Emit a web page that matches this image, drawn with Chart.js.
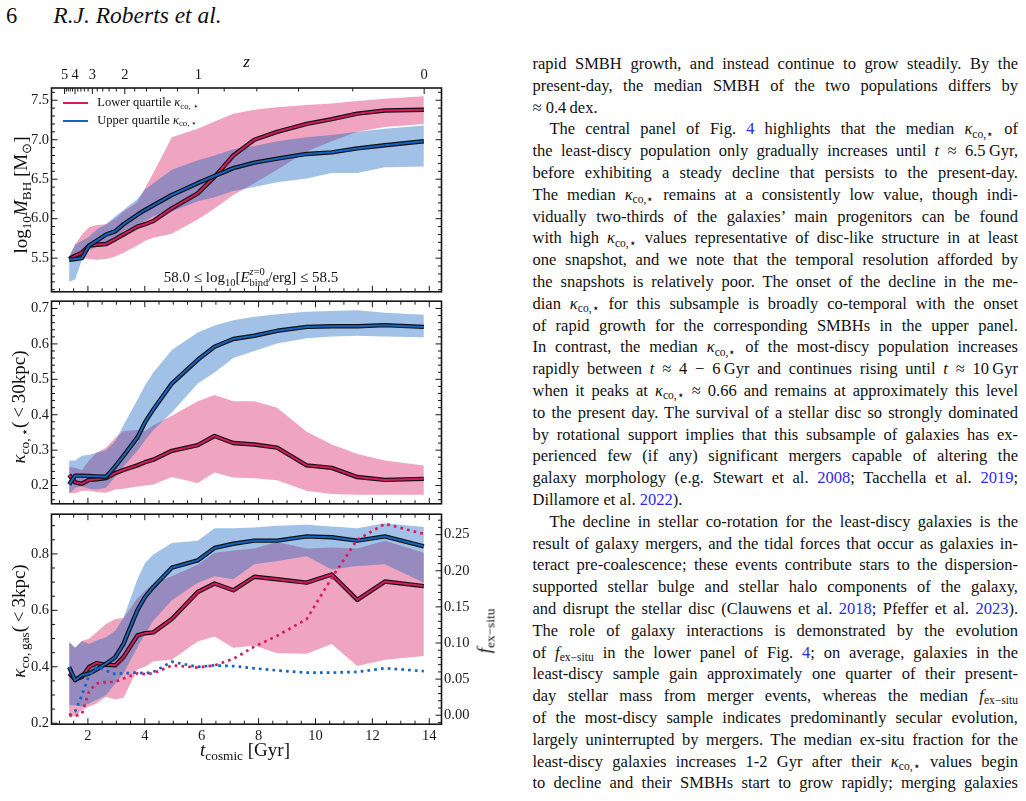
<!DOCTYPE html>
<html lang="en">
<head>
<meta charset="UTF-8">
<title>Fig. 4 - R.J. Roberts et al.</title>
<script src="https://cdn.jsdelivr.net/npm/chart.js"></script>
<style>
  body { margin: 0; width: 1026px; height: 801px; position: relative; overflow: hidden; background: #fff;
         font-family: 'Liberation Serif', 'Times New Roman', serif; color: #111; }
  canvas.panel { position: absolute; left: 0; }
  .abs { position: absolute; white-space: nowrap; line-height: 1; z-index: 2; }
  .rot { transform: translate(-50%, -50%) rotate(-90deg); }
  .ctr { transform: translateX(-50%); }
  sub { font-size: 0.7em; line-height: 0; vertical-align: baseline; position: relative; top: 0.28em; }
  .ss { display: inline-block; vertical-align: -0.3em; font-size: 0.7em; line-height: 1.0; text-align: left; }
  .ss span { display: block; }
  #col { position: absolute; left: 532.5px; top: 53px; width: 485.5px; font-size: 16.5px; line-height: 21.8px;
         font-family: 'Liberation Serif', 'Times New Roman', serif; }
  #col .ln { height: 21.8px; white-space: nowrap; }
  #col .j { text-align: justify; text-align-last: justify; }
  #col .ind { padding-left: 17px; }
  .ref { color: #2a2ae6; }
</style>
</head>
<body>

<div class="abs" style="left:6px; top:4.5px; font-size:22.5px;">6</div>
<div class="abs" style="left:53.3px; top:4.3px; font-size:23.5px; font-style:italic;">R.J. Roberts et al.</div>

<canvas id="p1" class="panel" width="480" height="265" style="top:38px"></canvas>
<canvas id="p2" class="panel" width="480" height="225" style="top:290px"></canvas>
<canvas id="p3" class="panel" width="480" height="298" style="top:503px"></canvas>

<!-- axis titles and annotations -->
<div class="abs ctr" style="left:246.5px; top:52.8px; font-size:17px; font-style:italic;">z</div>
<div class="abs rot" style="left:20px; top:195px; font-size:19px;">log<sub>10</sub><i>M</i><sub>BH</sub> [M<sub>⊙</sub>]</div>
<div class="abs rot" style="left:18px; top:407px; font-size:19px;"><i>κ</i><sub>co,&thinsp;⋆</sub>(&thinsp;&lt;&thinsp;30kpc)</div>
<div class="abs rot" style="left:18px; top:621px; font-size:19px;"><i>κ</i><sub>co,&thinsp;gas</sub>(&thinsp;&lt;&thinsp;3kpc)</div>
<div class="abs rot" style="left:484px; top:631px; font-size:19px;"><i>f</i><sub>ex−situ</sub></div>
<div class="abs ctr" style="left:245px; top:739.9px; font-size:19px;"><i>t</i><sub>cosmic</sub> [Gyr]</div>
<div class="abs ctr" style="left:251px; top:267.4px; font-size:15px;">58.0 ≤ log<sub>10</sub>[<i>E</i><span class="ss"><span><i>z</i>=0</span><span>bind</span></span>/erg] ≤ 58.5</div>

<!-- legend -->
<div class="abs" style="left:62.7px; top:101.6px; width:25.6px; height:2.2px; background:#d81b60;"></div>
<div class="abs" style="left:62.7px; top:120.1px; width:25.6px; height:2.2px; background:#1565c0;"></div>
<div class="abs" style="left:97.3px; top:96.2px; font-size:12.5px;">Lower quartile <i>κ</i><sub>co,&thinsp;⋆</sub></div>
<div class="abs" style="left:97.3px; top:113.8px; font-size:12.5px;">Upper quartile <i>κ</i><sub>co,&thinsp;⋆</sub></div>

<!-- right column text -->
<div id="col">
  <div class="ln j">rapid SMBH growth, and instead continue to grow steadily. By the</div>
  <div class="ln j">present-day, the median SMBH of the two populations differs by</div>
  <div class="ln">≈ 0.4&thinsp;dex.</div>
  <div class="ln j ind">The central panel of Fig. <span class="ref">4</span> highlights that the median <i>κ</i><sub>co,⋆</sub> of</div>
  <div class="ln j">the least-discy population only gradually increases until <i>t</i> ≈ 6.5&thinsp;Gyr,</div>
  <div class="ln j">before exhibiting a steady decline that persists to the present-day.</div>
  <div class="ln j">The median <i>κ</i><sub>co,⋆</sub> remains at a consistently low value, though indi-</div>
  <div class="ln j">vidually two-thirds of the galaxies’ main progenitors can be found</div>
  <div class="ln j">with high <i>κ</i><sub>co,⋆</sub> values representative of disc-like structure in at least</div>
  <div class="ln j">one snapshot, and we note that the temporal resolution afforded by</div>
  <div class="ln j">the snapshots is relatively poor. The onset of the decline in the me-</div>
  <div class="ln j">dian <i>κ</i><sub>co,⋆</sub> for this subsample is broadly co-temporal with the onset</div>
  <div class="ln j">of rapid growth for the corresponding SMBHs in the upper panel.</div>
  <div class="ln j">In contrast, the median <i>κ</i><sub>co,⋆</sub> of the most-discy population increases</div>
  <div class="ln j">rapidly between <i>t</i> ≈ 4 − 6&thinsp;Gyr and continues rising until <i>t</i> ≈ 10&thinsp;Gyr</div>
  <div class="ln j">when it peaks at <i>κ</i><sub>co,⋆</sub> ≈ 0.66 and remains at approximately this level</div>
  <div class="ln j">to the present day. The survival of a stellar disc so strongly dominated</div>
  <div class="ln j">by rotational support implies that this subsample of galaxies has ex-</div>
  <div class="ln j">perienced few (if any) significant mergers capable of altering the</div>
  <div class="ln j">galaxy morphology (e.g. Stewart et al. <span class="ref">2008</span>; Tacchella et al. <span class="ref">2019</span>;</div>
  <div class="ln">Dillamore et al. <span class="ref">2022</span>).</div>
  <div class="ln j ind">The decline in stellar co-rotation for the least-discy galaxies is the</div>
  <div class="ln j">result of galaxy mergers, and the tidal forces that occur as galaxies in-</div>
  <div class="ln j">teract pre-coalescence; these events contribute stars to the dispersion-</div>
  <div class="ln j">supported stellar bulge and stellar halo components of the galaxy,</div>
  <div class="ln j">and disrupt the stellar disc (Clauwens et al. <span class="ref">2018</span>; Pfeffer et al. <span class="ref">2023</span>).</div>
  <div class="ln j">The role of galaxy interactions is demonstrated by the evolution</div>
  <div class="ln j">of <i>f</i><sub>ex−situ</sub> in the lower panel of Fig. <span class="ref">4</span>; on average, galaxies in the</div>
  <div class="ln j">least-discy sample gain approximately one quarter of their present-</div>
  <div class="ln j">day stellar mass from merger events, whereas the median <i>f</i><sub>ex−situ</sub></div>
  <div class="ln j">of the most-discy sample indicates predominantly secular evolution,</div>
  <div class="ln j">largely uninterrupted by mergers. The median ex-situ fraction for the</div>
  <div class="ln j">least-discy galaxies increases 1-2 Gyr after their <i>κ</i><sub>co,⋆</sub> values begin</div>
  <div class="ln j">to decline and their SMBHs start to grow rapidly; merging galaxies</div>
</div>

<script>
// cosmic time of each snapshot [Gyr]
const T = [1.34, 1.55, 1.79, 2.04, 2.30, 2.64, 2.96, 3.25, 3.74, 4.01, 4.30, 4.95, 5.86, 6.45, 7.11, 7.85, 8.65, 9.69, 10.57, 11.47, 12.44, 13.81];

// top panel: log10 M_BH
const bhLowMed = [5.49, 5.53, 5.57, 5.66, 5.67, 5.68, 5.74, 5.80, 5.90, 5.93, 5.97, 6.13, 6.32, 6.53, 6.80, 7.00, 7.10, 7.20, 7.26, 7.33, 7.37, 7.38];
const bhLowP75 = [5.52, 5.67, 5.80, 5.89, 5.92, 5.93, 6.00, 6.09, 6.21, 6.39, 6.58, 7.03, 7.14, 7.23, 7.33, 7.38, 7.41, 7.44, 7.46, 7.49, 7.52, 7.55];
const bhLowP25 = [5.48, 5.50, 5.50, 5.49, 5.48, 5.49, 5.52, 5.57, 5.66, 5.72, 5.76, 5.81, 5.99, 6.13, 6.30, 6.45, 6.62, 6.85, 6.98, 7.10, 7.16, 7.20];
const bhUppMed = [5.48, 5.49, 5.50, 5.66, 5.72, 5.80, 5.84, 5.93, 6.05, 6.11, 6.17, 6.30, 6.45, 6.54, 6.64, 6.71, 6.76, 6.82, 6.84, 6.89, 6.93, 6.98];
const bhUppP75 = [5.52, 5.67, 5.72, 5.77, 5.86, 5.93, 6.03, 6.11, 6.25, 6.37, 6.45, 6.62, 6.74, 6.80, 6.88, 6.92, 6.98, 7.03, 7.06, 7.10, 7.14, 7.18];
const bhUppP25 = [5.20, 5.23, 5.48, 5.60, 5.64, 5.66, 5.72, 5.84, 5.93, 5.97, 6.03, 6.09, 6.22, 6.27, 6.35, 6.40, 6.46, 6.51, 6.58, 6.58, 6.65, 6.66];

// middle panel: kappa_co,star (<30kpc)
const ksLowMed = [0.230, 0.209, 0.205, 0.216, 0.218, 0.221, 0.235, 0.244, 0.257, 0.266, 0.273, 0.298, 0.314, 0.340, 0.320, 0.316, 0.307, 0.257, 0.250, 0.224, 0.216, 0.219];
const ksLowP75 = [0.253, 0.250, 0.244, 0.271, 0.293, 0.307, 0.334, 0.354, 0.357, 0.354, 0.370, 0.397, 0.438, 0.456, 0.438, 0.438, 0.420, 0.352, 0.316, 0.289, 0.271, 0.257];
const ksLowP25 = [0.180, 0.178, 0.185, 0.185, 0.182, 0.180, 0.189, 0.191, 0.197, 0.200, 0.203, 0.224, 0.207, 0.237, 0.223, 0.221, 0.215, 0.185, 0.176, 0.174, 0.174, 0.174];
const ksUppMed = [0.203, 0.228, 0.228, 0.227, 0.226, 0.225, 0.254, 0.284, 0.336, 0.379, 0.415, 0.488, 0.555, 0.592, 0.614, 0.623, 0.637, 0.648, 0.650, 0.650, 0.653, 0.648];
const ksUppP75 = [0.271, 0.271, 0.284, 0.287, 0.293, 0.300, 0.325, 0.370, 0.442, 0.483, 0.519, 0.583, 0.632, 0.652, 0.667, 0.677, 0.684, 0.691, 0.693, 0.695, 0.688, 0.682];
const ksUppP25 = [0.176, 0.194, 0.198, 0.191, 0.189, 0.194, 0.225, 0.254, 0.298, 0.329, 0.357, 0.406, 0.488, 0.519, 0.560, 0.580, 0.601, 0.616, 0.621, 0.623, 0.621, 0.619];

// bottom panel: kappa_co,gas (<3kpc) and f_ex-situ
const kgLowMed = [0.376, 0.355, 0.364, 0.399, 0.413, 0.407, 0.405, 0.434, 0.511, 0.519, 0.522, 0.569, 0.665, 0.695, 0.671, 0.719, 0.710, 0.698, 0.727, 0.637, 0.702, 0.686];
const kgLowP75 = [0.487, 0.467, 0.491, 0.499, 0.522, 0.552, 0.569, 0.573, 0.643, 0.669, 0.695, 0.721, 0.762, 0.804, 0.812, 0.819, 0.842, 0.819, 0.823, 0.819, 0.847, 0.804];
const kgLowP25 = [0.229, 0.223, 0.247, 0.259, 0.270, 0.294, 0.284, 0.290, 0.390, 0.400, 0.420, 0.425, 0.490, 0.507, 0.467, 0.475, 0.448, 0.446, 0.481, 0.403, 0.425, 0.438];
const kgUppMed = [0.399, 0.352, 0.370, 0.376, 0.390, 0.411, 0.434, 0.481, 0.601, 0.648, 0.683, 0.751, 0.777, 0.821, 0.836, 0.847, 0.847, 0.862, 0.859, 0.847, 0.862, 0.827];
const kgUppP75 = [0.487, 0.467, 0.491, 0.481, 0.493, 0.505, 0.528, 0.573, 0.710, 0.768, 0.798, 0.839, 0.847, 0.891, 0.891, 0.894, 0.900, 0.903, 0.897, 0.891, 0.909, 0.895];
const kgUppP25 = [0.264, 0.264, 0.259, 0.270, 0.282, 0.300, 0.341, 0.376, 0.469, 0.516, 0.563, 0.636, 0.698, 0.721, 0.710, 0.763, 0.775, 0.792, 0.745, 0.757, 0.763, 0.698];
const exLow = [0.000, -0.001, 0.002, 0.033, 0.044, 0.046, 0.046, 0.051, 0.058, 0.057, 0.058, 0.069, 0.066, 0.069, 0.078, 0.095, 0.110, 0.133, 0.190, 0.243, 0.265, 0.251];
const exUpp = [0.000, 0.005, 0.028, 0.055, 0.067, 0.062, 0.057, 0.058, 0.059, 0.058, 0.060, 0.074, 0.067, 0.069, 0.068, 0.065, 0.062, 0.059, 0.059, 0.060, 0.065, 0.061];

// tick labels
const xTicks = [2, 4, 6, 8, 10, 12, 14];
const zTicks = [0, 1, 2, 3, 4, 5];
const bhTicks = [5.5, 6.0, 6.5, 7.0, 7.5];
const ksTicks = [0.2, 0.3, 0.4, 0.5, 0.6, 0.7];
const kgTicks = [0.2, 0.4, 0.6, 0.8];
const exTicks = [0.00, 0.05, 0.10, 0.15, 0.20, 0.25];

const X_MIN = 0.72, X_MAX = 14.43;
const RED = '#d81b60', BLUE = '#1565c0';
const RED_FILL = 'rgba(216,27,96,0.4)', BLUE_FILL = 'rgba(21,101,192,0.4)';
const INK = '#1a1a1a';
const FONT = { family: "'Liberation Serif', 'Times New Roman', serif", size: 14.5 };

// age of the universe at redshift z (flat LCDM, Planck-like), only used to place the top axis
const tOfZ = z => 11.554 * Math.asinh(1.5025 * Math.pow(1 + z, -1.5));

const pts = ys => T.map((t, i) => ({ x: t, y: ys[i] }));

function band(lo, hi, color, order) {
  return [
    { data: pts(lo), borderWidth: 0, borderColor: 'rgba(0,0,0,0)', pointRadius: 0, fill: false, order: order },
    { data: pts(hi), borderWidth: 0, borderColor: 'rgba(0,0,0,0)', pointRadius: 0, fill: '-1', backgroundColor: color, order: order - 1 }
  ];
}

function median(vals, color, order) {
  return [
    { data: pts(vals), borderColor: '#111', borderWidth: 4.4, pointRadius: 0, fill: false, order: order, borderJoinStyle: 'round' },
    { data: pts(vals), borderColor: color, borderWidth: 2.0, pointRadius: 0, fill: false, order: order - 1, borderJoinStyle: 'round' }
  ];
}

function dotted(vals, color, order) {
  return { data: pts(vals), yAxisID: 'y2', borderColor: color, borderWidth: 2.7, borderDash: [2.7, 4.1],
           pointRadius: 0, fill: false, order: order };
}

// inward ticks on every side plus the frame, matplotlib style
const frameTicks = {
  id: 'frameTicks',
  afterDatasetsDraw(chart, args, o) {
    const { ctx, chartArea: a, scales } = chart;
    const line = (x1, y1, x2, y2) => { ctx.beginPath(); ctx.moveTo(x1, y1); ctx.lineTo(x2, y2); ctx.stroke(); };
    const steps = (min, max, step) => {
      const v = [];
      for (let n = Math.ceil(min / step - 1e-6); n * step <= max + 1e-9; n++) v.push(n * step);
      return v;
    };
    const major = (v, m) => Math.abs(v / m - Math.round(v / m)) < 1e-4;
    ctx.save();
    ctx.strokeStyle = '#161616';
    ctx.lineWidth = 1;
    const xs = scales.x;
    steps(xs.min, xs.max, 0.5).forEach(v => {
      const p = xs.getPixelForValue(v), L = major(v, 2) ? 6 : 3.5;
      line(p, a.bottom, p, a.bottom - L);
      if (!o.zTop) line(p, a.top, p, a.top + L);
    });
    if (o.zTop) {
      steps(0, 5, 0.2).forEach(z => {
        const p = xs.getPixelForValue(tOfZ(z)), L = major(z, 1) ? 6 : 3.5;
        line(p, a.top, p, a.top + L);
      });
    }
    const ys = scales.y;
    steps(ys.min, ys.max, o.yMinor).forEach(v => {
      const p = ys.getPixelForValue(v), L = major(v, o.yMajor) ? 6 : 3.5;
      line(a.left, p, a.left + L, p);
      if (!scales.y2) line(a.right, p, a.right - L, p);
    });
    if (scales.y2) {
      const s = scales.y2;
      steps(s.min, s.max, 0.01).forEach(v => {
        const p = s.getPixelForValue(v), L = major(v, 0.05) ? 6 : 3.5;
        line(a.right, p, a.right - L, p);
      });
    }
    ctx.lineWidth = 1.6;
    ctx.strokeRect(a.left, a.top, a.right - a.left, a.bottom - a.top);
    ctx.restore();
  }
};

function yScale(min, max, ticks, dec, pos, width) {
  return {
    type: 'linear', position: pos, min: min, max: max,
    grid: { display: false, drawTicks: false }, border: { display: false },
    afterBuildTicks: s => { s.ticks = ticks.map(v => ({ value: v })); },
    afterFit: s => { s.width = width; },
    ticks: { font: FONT, color: INK, padding: 2.5, callback: v => Number(v).toFixed(dec) }
  };
}

function xScale(showLabels) {
  if (!showLabels) return { type: 'linear', min: X_MIN, max: X_MAX, display: false };
  return {
    type: 'linear', min: X_MIN, max: X_MAX,
    grid: { display: false, drawTicks: false }, border: { display: false },
    afterBuildTicks: s => { s.ticks = xTicks.map(v => ({ value: v })); },
    afterFit: s => { s.height = 76.8; },
    ticks: { font: FONT, color: INK, padding: 3, autoSkip: false, maxRotation: 0, callback: v => String(v) }
  };
}

function baseOptions(scales, padding, tickOpts) {
  return {
    responsive: false, animation: false,
    layout: { padding: padding },
    plugins: { legend: { display: false }, tooltip: { enabled: false }, frameTicks: tickOpts },
    scales: scales
  };
}

// top panel
new Chart(document.getElementById('p1'), {
  type: 'line',
  data: { datasets: [
    ...band(bhLowP25, bhLowP75, RED_FILL, 20),
    ...band(bhUppP25, bhUppP75, BLUE_FILL, 18),
    ...median(bhLowMed, RED, 16),
    ...median(bhUppMed, BLUE, 14)
  ] },
  options: baseOptions({
    x: xScale(false),
    xz: {
      type: 'linear', position: 'top', min: X_MIN, max: X_MAX,
      grid: { display: false, drawTicks: false }, border: { display: false },
      afterBuildTicks: s => { s.ticks = zTicks.map(z => ({ value: tOfZ(z) })); },
      afterFit: s => { s.height = 50; },
      ticks: { font: FONT, color: INK, padding: 4, autoSkip: false, maxRotation: 0, minRotation: 0,
               callback: (v, i) => String(zTicks[i]) }
    },
    y: yScale(5.074, 7.655, bhTicks, 1, 'left', 51.5)
  }, { top: 0, bottom: 3, left: 0, right: 38.5 }, { zTop: true, yMinor: 0.1, yMajor: 0.5 }),
  plugins: [frameTicks]
});

// middle panel
new Chart(document.getElementById('p2'), {
  type: 'line',
  data: { datasets: [
    ...band(ksLowP25, ksLowP75, RED_FILL, 20),
    ...band(ksUppP25, ksUppP75, BLUE_FILL, 18),
    ...median(ksLowMed, RED, 16),
    ...median(ksUppMed, BLUE, 14)
  ] },
  options: baseOptions({
    x: xScale(false),
    y: yScale(0.1485, 0.7206, ksTicks, 1, 'left', 51.5)
  }, { top: 11, bottom: 3.4, left: 0, right: 38.5 }, { zTop: false, yMinor: 0.02, yMajor: 0.1 }),
  plugins: [frameTicks]
});

// bottom panel
new Chart(document.getElementById('p3'), {
  type: 'line',
  data: { datasets: [
    ...band(kgLowP25, kgLowP75, RED_FILL, 20),
    ...band(kgUppP25, kgUppP75, BLUE_FILL, 18),
    ...median(kgLowMed, RED, 16),
    ...median(kgUppMed, BLUE, 14),
    dotted(exLow, RED, 11),
    dotted(exUpp, BLUE, 12)
  ] },
  options: baseOptions({
    x: xScale(true),
    y: yScale(0.1965, 0.9407, kgTicks, 1, 'left', 51.5),
    y2: yScale(-0.0124, 0.2783, exTicks, 2, 'right', 38.5)
  }, { top: 9.6, bottom: 0, left: 0, right: 0 }, { zTop: false, yMinor: 0.05, yMajor: 0.2 }),
  plugins: [frameTicks]
});
</script>
</body>
</html>
